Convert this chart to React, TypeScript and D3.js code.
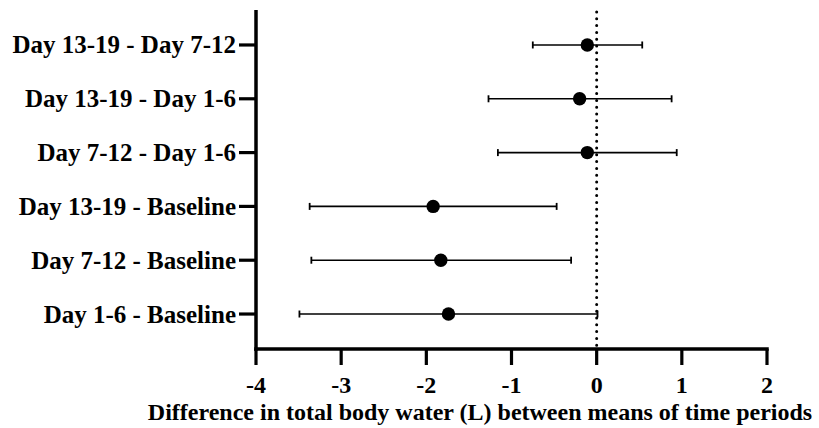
import React from "react";
import * as d3 from "d3";

// Pairwise comparisons of time periods (top to bottom)
const comparisons = [
  "Day 13-19 - Day 7-12",
  "Day 13-19 - Day 1-6",
  "Day 7-12 - Day 1-6",
  "Day 13-19 - Baseline",
  "Day 7-12 - Baseline",
  "Day 1-6 - Baseline",
];
// Mean difference and confidence interval bounds (L)
const meanDiff = [-0.11, -0.2, -0.11, -1.92, -1.83, -1.74];
const lowerCI = [-0.75, -1.27, -1.16, -3.37, -3.35, -3.49];
const upperCI = [0.535, 0.88, 0.94, -0.47, -0.3, 0.01];
const xTicks = [-4, -3, -2, -1, 0, 1, 2];
const xTitle = "Difference in total body water (L) between means of time periods";

const W = 819;
const H = 428;
const FONT = '"Liberation Serif", "Times New Roman", "DejaVu Serif", serif';

const textStyle = (size: number): React.CSSProperties => ({
  fontFamily: FONT,
  fontWeight: 700,
  fontSize: size,
  fill: "#000",
});

export default function App() {
  const x = d3.scaleLinear().domain([-4, 2]).range([256, 767]);
  const y = d3.scalePoint<string>().domain(comparisons).range([10, 349]).padding(0.65);
  const axisY = 349;
  const axisX = x(-4);
  const capH = 3.5;

  return (
    <svg width={W} height={H} style={{ position: "absolute", left: 0, top: 0, background: "#fff" }}>
      {/* zero reference line */}
      <line
        x1={x(0)}
        x2={x(0)}
        y1={12}
        y2={axisY}
        stroke="#000"
        strokeWidth={3}
        strokeLinecap="round"
        strokeDasharray="0 6.8"
      />

      {/* confidence intervals and means */}
      {comparisons.map((c, i) => {
        const cy = y(c)!;
        return (
          <g key={c}>
            <line x1={x(lowerCI[i])} x2={x(upperCI[i])} y1={cy} y2={cy} stroke="#000" strokeWidth={1.6} />
            <line x1={x(lowerCI[i])} x2={x(lowerCI[i])} y1={cy - capH} y2={cy + capH} stroke="#000" strokeWidth={1.8} />
            <line x1={x(upperCI[i])} x2={x(upperCI[i])} y1={cy - capH} y2={cy + capH} stroke="#000" strokeWidth={1.8} />
            <circle cx={x(meanDiff[i])} cy={cy} r={6.7} fill="#000" />
          </g>
        );
      })}

      {/* y axis */}
      <line x1={axisX} x2={axisX} y1={10} y2={axisY + 1.75} stroke="#000" strokeWidth={3.5} />
      {comparisons.map((c) => (
        <g key={c}>
          <line x1={239} x2={axisX} y1={y(c)!} y2={y(c)!} stroke="#000" strokeWidth={3.2} />
          <text x={236} y={y(c)!} dy="0.34em" textAnchor="end" style={textStyle(25)}>
            {c}
          </text>
        </g>
      ))}

      {/* x axis */}
      <line x1={axisX - 1.75} x2={x(2) + 1.75} y1={axisY} y2={axisY} stroke="#000" strokeWidth={3.5} />
      {xTicks.map((t) => (
        <g key={t}>
          <line x1={x(t)} x2={x(t)} y1={axisY} y2={365} stroke="#000" strokeWidth={3.2} />
          <text x={x(t)} y={393} textAnchor="middle" style={textStyle(24)}>
            {t}
          </text>
        </g>
      ))}
      <text x={480} y={420} textAnchor="middle" style={textStyle(24)}>
        {xTitle}
      </text>
    </svg>
  );
}
